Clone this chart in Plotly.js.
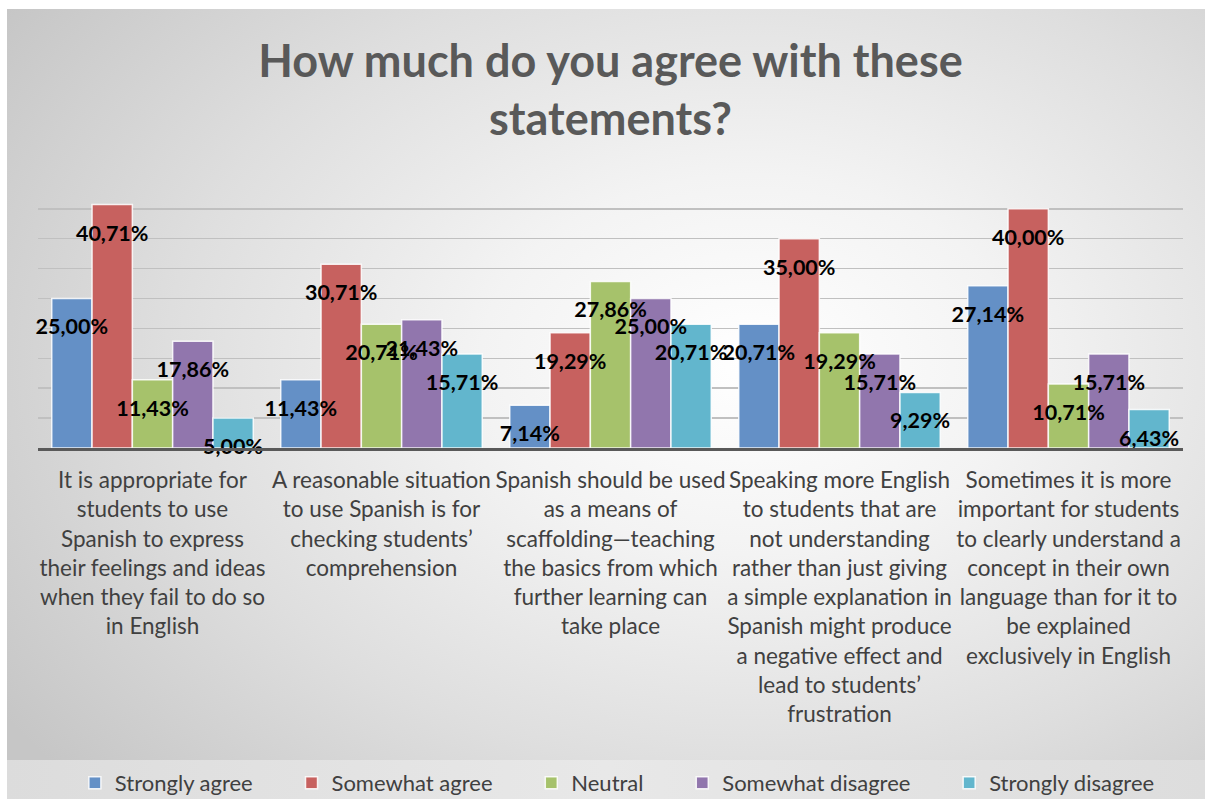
<!DOCTYPE html>
<html>
<head>
<meta charset="utf-8">
<script src="https://cdn.plot.ly/plotly-3.0.1.min.js"></script>
<style>
  html, body { margin:0; padding:0; background:#ffffff; width:1205px; height:799px; overflow:hidden; }
  #bg { position:absolute; left:7px; top:9px; width:1198px; height:790px;
        background: radial-gradient(ellipse 75% 80% at 62% 45%, #ffffff 0%, #f3f3f3 30%, #dedede 65%, #c6c6c6 100%); }
  #band { position:absolute; left:7px; top:760px; width:1198px; height:39px;
        background: linear-gradient(90deg, #dcdcdc 0%, #e8e8e8 50%, #dddddd 100%); }
  #chart { position:absolute; left:0; top:0; width:1205px; height:799px; }
</style>
</head>
<body>
<div id="bg"></div>
<div id="band"></div>
<div id="chart"></div>
<script>
const categories = [
  "It is appropriate for<br>students to use<br>Spanish to express<br>their feelings and ideas<br>when they fail to do so<br>in English",
  "A reasonable situation<br>to use Spanish is for<br>checking students’<br>comprehension",
  "Spanish should be used<br>as a means of<br>scaffolding—teaching<br>the basics from which<br>further learning can<br>take place",
  "Speaking more English<br>to students that are<br>not understanding<br>rather than just giving<br>a simple explanation in<br>Spanish might produce<br>a negative effect and<br>lead to students’<br>frustration",
  "Sometimes it is more<br>important for students<br>to clearly understand a<br>concept in their own<br>language than for it to<br>be explained<br>exclusively in English"
];
const seriesNames = ["Strongly agree", "Somewhat agree", "Neutral", "Somewhat disagree", "Strongly disagree"];
const stronglyAgree    = [25.00, 11.43, 7.14, 20.71, 27.14];
const somewhatAgree    = [40.71, 30.71, 19.29, 35.00, 40.00];
const neutral          = [11.43, 20.71, 27.86, 19.29, 10.71];
const somewhatDisagree = [17.86, 21.43, 25.00, 15.71, 15.71];
const stronglyDisagree = [5.00, 15.71, 20.71, 9.29, 6.43];
const seriesValues = [stronglyAgree, somewhatAgree, neutral, somewhatDisagree, stronglyDisagree];
const colors = ["#6490c6", "#c7615f", "#a6c26b", "#9176ad", "#62b6cd"];

const FONT = "Lato, 'Open Sans', sans-serif";
const fmt = v => v.toFixed(2).replace('.', ',') + '%';
const pad = '\u00a0\u00a0\u00a0\u00a0\u00a0\u00a0';

// coloured bars (no text)
const barTraces = seriesValues.map((vals, i) => ({
  type: 'bar',
  name: seriesNames[i] + (i < seriesNames.length - 1 ? pad : ''),
  x: categories,
  y: vals,
  xaxis: 'x', yaxis: 'y',
  marker: { color: colors[i], line: { color: 'rgba(255,255,255,0.85)', width: 1.5 } },
  hoverinfo: 'skip'
}));

// transparent twin bars on an overlaid axis that carry the data labels above all bars
const labelTraces = seriesValues.map((vals, i) => ({
  type: 'bar',
  name: seriesNames[i],
  showlegend: false,
  x: categories,
  y: vals,
  xaxis: 'x2', yaxis: 'y2',
  text: vals.map(fmt),
  textposition: 'inside',
  insidetextanchor: 'end',
  constraintext: 'none',
  textangle: 0,
  cliponaxis: false,
  textfont: { family: FONT, size: 21.5, color: '#000000', weight: 'bold' },
  marker: { color: 'rgba(0,0,0,0)', line: { width: 0 } },
  hoverinfo: 'skip'
}));

const layout = {
  width: 1205, height: 799,
  paper_bgcolor: 'rgba(0,0,0,0)',
  plot_bgcolor: 'rgba(0,0,0,0)',
  margin: { l: 38, r: 22, t: 178, b: 351 },
  barmode: 'group',
  bargap: 0.12,
  bargroupgap: 0,
  title: {
    text: 'How much do you agree with these<br>statements?',
    font: { family: FONT, size: 45, color: '#595959', weight: 'bold' },
    x: 0.5, xref: 'paper', xanchor: 'center',
    y: 0.904, yref: 'container', yanchor: 'top'
  },
  xaxis: {
    showline: true, linecolor: '#595959', linewidth: 3,
    ticks: '', showgrid: false, tickangle: 0,
    tickfont: { family: FONT, size: 22.5, color: '#404040' },
    ticklabelstandoff: 10,
    automargin: false
  },
  xaxis2: {
    overlaying: 'x', matches: 'x', visible: false
  },
  yaxis: {
    range: [0, 45.15], dtick: 5, showticklabels: false,
    showgrid: true, gridcolor: '#c0c0c0', gridwidth: 1.5,
    zeroline: false, fixedrange: true
  },
  yaxis2: {
    overlaying: 'y', range: [2.0, 47.15], visible: false, fixedrange: true
  },
  legend: {
    orientation: 'h', x: 0.506, xanchor: 'center', xref: 'paper',
    y: 0.02, yref: 'container', yanchor: 'middle',
    font: { family: FONT, size: 22, color: '#404040' },
    bgcolor: 'rgba(0,0,0,0)',
    traceorder: 'normal'
  },
  showlegend: true
};

Plotly.newPlot('chart', barTraces.concat(labelTraces), layout, { displayModeBar: false, staticPlot: true });
</script>
</body>
</html>
